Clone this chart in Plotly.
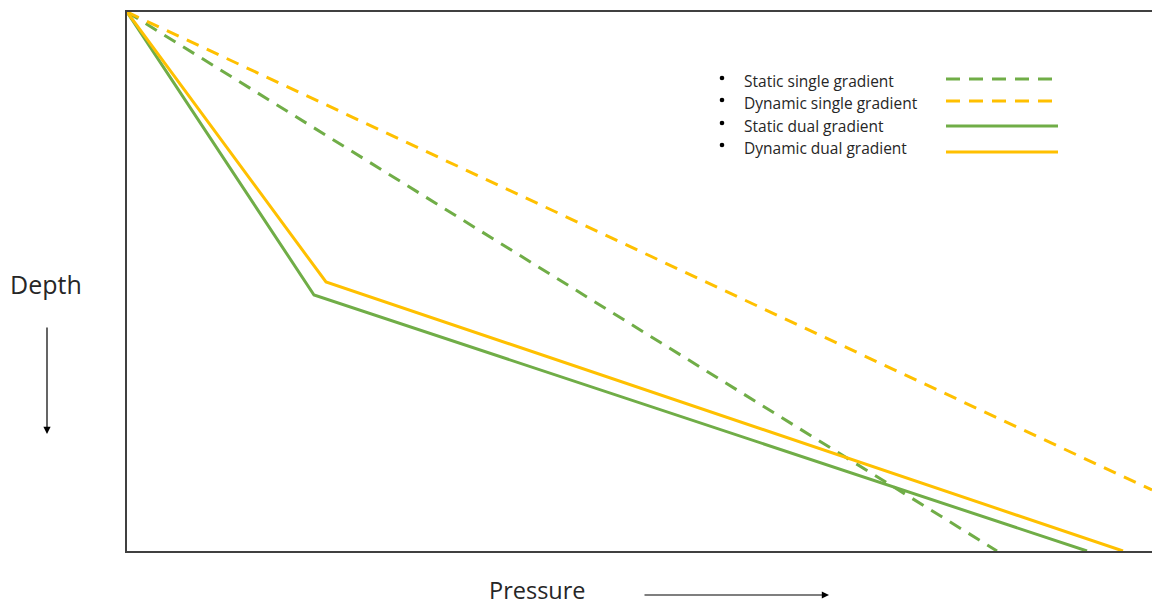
import plotly.graph_objects as go

# Data (pressure units and depth units, depth increasing downward)
static_single_p = [0, 870]
static_single_d = [0, 539]
dynamic_single_p = [0, 1025]
dynamic_single_d = [0, 478]
static_dual_p = [0, 187, 960]
static_dual_d = [0, 283, 539]
dynamic_dual_p = [0, 199, 996]
dynamic_dual_d = [0, 270, 539]

legend_labels = ["Static single gradient", "Dynamic single gradient",
                 "Static dual gradient", "Dynamic dual gradient"]

GREEN = "#70AD47"
YELLOW = "#FFC000"
W, H = 1152, 608
L, R, T, B = 127, 0, 12, 57
PW, PH = W - L - R, H - T - B

def px(x):
    return (x - L) / PW

def py(y):
    return (H - B - y) / PH

fig = go.Figure()
series = [
    (static_single_p, static_single_d, GREEN, "13px,9px", legend_labels[0]),
    (dynamic_single_p, dynamic_single_d, YELLOW, "13px,9px", legend_labels[1]),
    (static_dual_p, static_dual_d, GREEN, "solid", legend_labels[2]),
    (dynamic_dual_p, dynamic_dual_d, YELLOW, "solid", legend_labels[3]),
]
for xs, ys, c, dash, name in series:
    fig.add_trace(go.Scatter(x=xs, y=ys, mode="lines", name=name,
                             line=dict(color=c, width=3, dash=dash),
                             showlegend=False, cliponaxis=True))

annotations = []
shapes = []
leg_text_y = [81, 103, 126, 148]
leg_line = [(946, 1052, 79, GREEN, "14px,9px"), (946, 1052, 101, YELLOW, "14px,9px"),
            (946, 1058, 126, GREEN, "solid"), (946, 1058, 152, YELLOW, "solid")]
for lab, ty, (x0, x1, ly, c, dash) in zip(legend_labels, leg_text_y, leg_line):
    bx, by = 722, ty - 3
    shapes.append(dict(type="circle", xref="paper", yref="paper",
                       x0=px(bx - 2.3), x1=px(bx + 2.3), y0=py(by + 2.3), y1=py(by - 2.3),
                       fillcolor="#000000", line=dict(width=0)))
    annotations.append(dict(xref="paper", yref="paper", x=px(742), y=py(ty),
                            xanchor="left", yanchor="middle", showarrow=False,
                            text=lab, font=dict(size=15.5, color="#262626", family="Open Sans")))
    shapes.append(dict(type="line", xref="paper", yref="paper", x0=px(x0), x1=px(x1),
                       y0=py(ly), y1=py(ly), line=dict(color=c, width=3, dash=dash)))

annotations.append(dict(xref="paper", yref="paper", x=px(46), y=py(284),
                        xanchor="center", yanchor="middle", showarrow=False,
                        text="Depth", font=dict(size=25, color="#262626", family="Open Sans")))
annotations.append(dict(xref="paper", yref="paper", x=px(537), y=py(608),
                        xanchor="center", yanchor="bottom", showarrow=False,
                        text="Pressure", font=dict(size=23.5, color="#262626", family="Open Sans")))
annotations.append(dict(xref="paper", yref="paper", x=px(47), y=py(434), text="",
                        showarrow=True, ax=0, ay=-108, arrowhead=2, arrowsize=1.2,
                        arrowwidth=1.2, arrowcolor="#000000"))
annotations.append(dict(xref="paper", yref="paper", x=px(829), y=py(595), text="",
                        showarrow=True, ax=-186, ay=0, arrowhead=2, arrowsize=1.2,
                        arrowwidth=1.2, arrowcolor="#000000"))

fig.update_layout(
    width=W, height=H,
    margin=dict(l=L, r=R, t=T, b=B),
    paper_bgcolor="white", plot_bgcolor="white",
    xaxis=dict(range=[0, 1025], showgrid=False, zeroline=False, showticklabels=False,
               ticks="", showline=True, mirror=True, linecolor="#404040", linewidth=1.5),
    yaxis=dict(range=[539, 0], showgrid=False, zeroline=False, showticklabels=False,
               ticks="", showline=True, mirror=False, linecolor="#404040", linewidth=1.5),
    annotations=annotations, shapes=shapes,
)

fig.write_html("out.html", config={"displayModeBar": False},
               post_script="document.body.style.margin='0';document.body.style.overflow='hidden';")
